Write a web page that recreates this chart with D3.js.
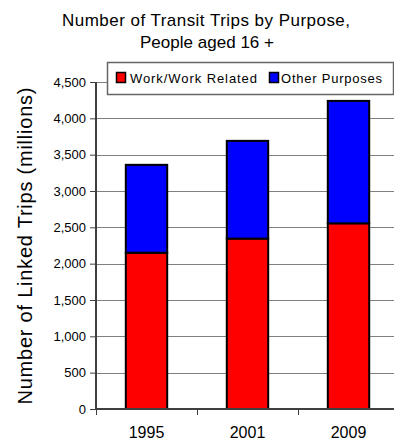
<!DOCTYPE html>
<html>
<head>
<meta charset="utf-8">
<script src="https://cdn.jsdelivr.net/npm/d3@7"></script>
<style>
  html, body { margin: 0; padding: 0; background: #fff; }
  svg { display: block; font-family: "Liberation Sans", Arial, sans-serif; }
</style>
</head>
<body>
<svg id="chart" width="394" height="442"></svg>
<script>
// ---- data ----
const years = ["1995", "2001", "2009"];
const workTrips = [2150, 2345, 2555];
const otherTrips = [1210, 1345, 1685];
const seriesNames = ["Work/Work Related", "Other Purposes"];
const seriesColors = ["#FF0000", "#0000FF"];
const yTicks = [0, 500, 1000, 1500, 2000, 2500, 3000, 3500, 4000, 4500];
const titleLines = ["Number of Transit Trips by Purpose,", "People aged 16 +"];
const yLabel = "Number of Linked Trips (millions)";

// ---- layout ----
const W = 394, H = 442;
const plot = { left: 96, right: 399, top: 82, bottom: 409 };

const svg = d3.select("#chart");

const x = d3.scaleBand().domain(years).range([plot.left, plot.right])
  .paddingInner(0.59).paddingOuter(0.295);
const y = d3.scaleLinear().domain([0, 4500]).range([plot.bottom, plot.top]);

// gridlines
svg.append("g").selectAll("line").data(yTicks.filter(d => d > 0)).join("line")
  .attr("x1", plot.left).attr("x2", W)
  .attr("y1", d => Math.round(y(d)) + 0.5).attr("y2", d => Math.round(y(d)) + 0.5)
  .attr("stroke", "#808080").attr("stroke-width", 1);

// stacked data
const table = years.map((yr, i) => ({ year: yr, work: workTrips[i], other: otherTrips[i] }));
const stack = d3.stack().keys(["work", "other"])(table);

svg.append("g").selectAll("g").data(stack).join("g")
  .attr("fill", (d, i) => seriesColors[i])
  .selectAll("rect").data(d => d).join("rect")
  .attr("x", d => x(d.data.year))
  .attr("width", x.bandwidth())
  .attr("y", d => y(d[1]))
  .attr("height", d => y(d[0]) - y(d[1]))
  .attr("stroke", "#000").attr("stroke-width", 2);

// y axis
const yAxis = svg.append("g").attr("transform", `translate(${plot.left},0)`)
  .call(d3.axisLeft(y).tickValues(yTicks).tickFormat(d3.format(",")).tickSize(6).tickPadding(4));
yAxis.select(".domain").attr("stroke", "#404040").attr("stroke-width", 2)
  .attr("d", `M0,${plot.top}V${plot.bottom}`);
yAxis.selectAll(".tick line").attr("stroke", "#404040").attr("stroke-width", 1);
yAxis.selectAll(".tick text").attr("font-size", 13).attr("fill", "#000")
  .attr("font-family", "'Liberation Sans', Arial, sans-serif");

// x axis
const xAxis = svg.append("g").attr("transform", `translate(0,${plot.bottom})`)
  .call(d3.axisBottom(x).tickSize(0).tickPadding(18));
xAxis.select(".domain").attr("stroke", "#404040").attr("stroke-width", 2)
  .attr("d", `M${plot.left},0H${W}`);
xAxis.selectAll(".tick text").attr("font-size", 16).attr("fill", "#000")
  .attr("font-family", "'Liberation Sans', Arial, sans-serif");
// category boundary ticks
const bounds = years.map(yr => x(yr) - x.step() * x.paddingInner() / 2).concat([plot.right]);
xAxis.selectAll("line.bnd").data(bounds).join("line").attr("class", "bnd")
  .attr("x1", d => Math.round(d) + 0.5).attr("x2", d => Math.round(d) + 0.5)
  .attr("y1", 0).attr("y2", 6).attr("stroke", "#404040").attr("stroke-width", 1);

// title
const title = svg.append("g").attr("font-size", 17).attr("fill", "#000").attr("text-anchor", "middle");
title.append("text").attr("x", 206).attr("y", 26).attr("textLength", 288).attr("lengthAdjust", "spacing").text(titleLines[0]);
title.append("text").attr("x", 207).attr("y", 47.5).attr("textLength", 134).attr("lengthAdjust", "spacing").text(titleLines[1]);

// y label
svg.append("text").attr("transform", "translate(32,246) rotate(-90)")
  .attr("text-anchor", "middle").attr("font-size", 20).attr("fill", "#000")
  .attr("textLength", 317).attr("lengthAdjust", "spacing").text(yLabel);

// legend
const lg = svg.append("g");
lg.append("rect").attr("x", 107.5).attr("y", 62.5).attr("width", 286).attr("height", 32)
  .attr("fill", "#fff").attr("stroke", "#666").attr("stroke-width", 1.5);
const legendItems = [
  { sx: 116, tx: 130, tl: 127 },
  { sx: 269, tx: 281, tl: 101 }
];
legendItems.forEach((it, i) => {
  lg.append("rect").attr("x", it.sx + 0.5).attr("y", 72.5).attr("width", 9).attr("height", 10)
    .attr("fill", seriesColors[i]).attr("stroke", "#000").attr("stroke-width", 1.5);
  lg.append("text").attr("x", it.tx).attr("y", 82.5).attr("font-size", 13).attr("fill", "#000")
    .attr("textLength", it.tl).attr("lengthAdjust", "spacing").text(seriesNames[i]);
});
</script>
</body>
</html>
